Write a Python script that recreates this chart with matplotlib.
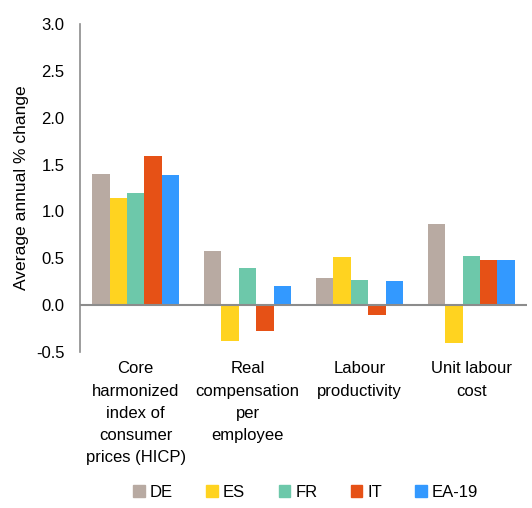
import matplotlib.pyplot as plt
import numpy as np
from matplotlib.patches import Patch

plt.rcParams["font.family"] = ["Liberation Sans", "DejaVu Sans"]

categories = [
    "Core\nharmonized\nindex of\nconsumer\nprices (HICP)",
    "Real\ncompensation\nper\nemployee",
    "Labour\nproductivity",
    "Unit labour\ncost",
]
countries = ["DE", "ES", "FR", "IT", "EA-19"]
values = {
    "DE": [1.40, 0.58, 0.29, 0.87],
    "ES": [1.14, -0.38, 0.51, -0.40],
    "FR": [1.20, 0.40, 0.27, 0.52],
    "IT": [1.59, -0.28, -0.11, 0.48],
    "EA-19": [1.39, 0.20, 0.26, 0.48],
}
colors = ["#B8AAA2", "#FFD320", "#6DC8AA", "#E65116", "#3399FF"]


def main() -> None:
    fig = plt.figure(figsize=(5.32, 5.08), dpi=100)
    ax = fig.add_axes([0.150, 0.307, 0.841, 0.646])

    x = np.arange(len(categories))
    width = 0.156
    for i, (c, col) in enumerate(zip(countries, colors)):
        ax.bar(x + (i - 2) * width, values[c], width, color=col, label=c)

    ax.axhline(0, color="#8C8C8C", linewidth=1.5, zorder=3)
    ax.set_xlim(-0.5, len(categories) - 0.5)
    ax.set_ylim(-0.5, 3.0)
    ax.set_yticks(np.arange(-0.5, 3.01, 0.5))
    ax.set_yticklabels([f"{v:.1f}" for v in np.arange(-0.5, 3.01, 0.5)], fontsize=12)
    ax.tick_params(axis="y", length=0, pad=11)
    ax.set_xticks([])
    for spine in ["top", "right", "bottom"]:
        ax.spines[spine].set_visible(False)
    ax.spines["left"].set_color("#8C8C8C")
    ax.spines["left"].set_linewidth(1.2)
    ax.set_ylabel("Average annual % change", fontsize=12.6, labelpad=5)

    for xi, cat in zip(x, categories):
        ax.text(xi, -0.6, cat, ha="center", va="top", fontsize=12,
                linespacing=1.6, transform=ax.transData)

    handles = [Patch(color=col, label=c) for c, col in zip(countries, colors)]
    fig.legend(handles=handles, loc="lower center", bbox_to_anchor=(0.575, -0.014),
               ncol=5, frameon=False, fontsize=12, handlelength=0.7,
               handleheight=0.7, handletextpad=0.3, columnspacing=2.0)

    fig.savefig("out.png", dpi=100)


main()
